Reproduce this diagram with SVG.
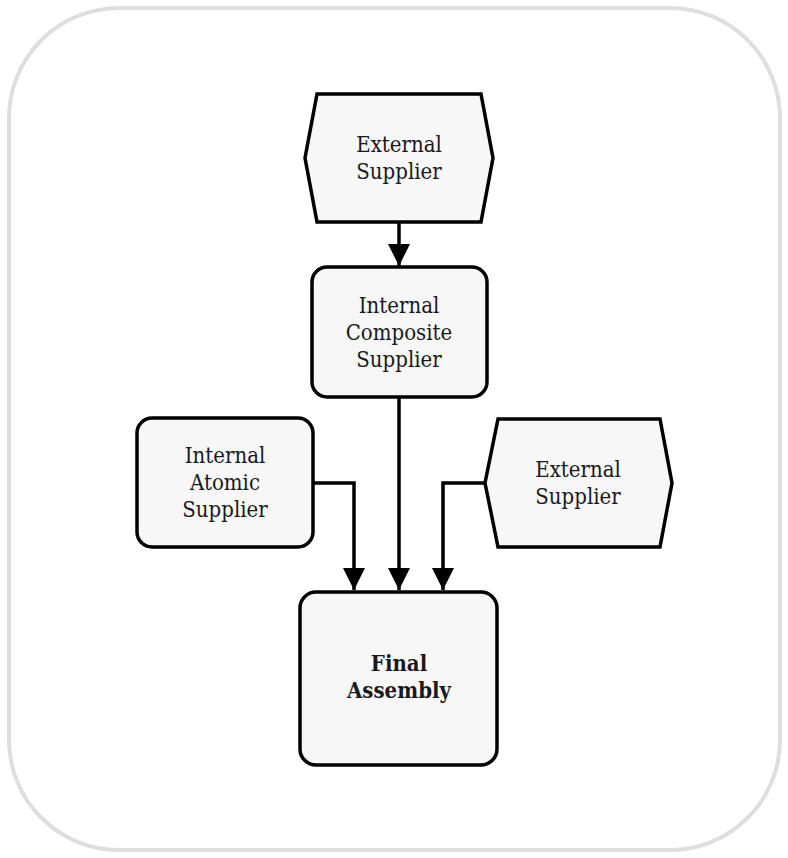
<svg xmlns="http://www.w3.org/2000/svg" width="788" height="858" viewBox="0 0 788 858">
  <defs>
    <marker id="arrow" viewBox="0 0 10 10" refX="10" refY="5" markerWidth="6.4" markerHeight="6.4" markerUnits="strokeWidth" orient="auto">
      <path d="M0,0 L10,5 L0,10 Z" fill="#000"/>
    </marker>
    <style>
      .frame { fill: #fff; stroke: #dedede; stroke-width: 4; }
      .node { fill: #f7f7f7; stroke: #000; stroke-width: 3.5; stroke-linejoin: miter; }
      .edge { fill: none; stroke: #000; stroke-width: 3.5; marker-end: url(#arrow); }
      .label { font-family: "DejaVu Serif Condensed", "DejaVu Serif", "Liberation Serif", serif; font-stretch: condensed; font-size: 22px; fill: #1a1a1a; text-anchor: middle; }
      .bold { font-weight: bold; }
    </style>
  </defs>

  <rect class="frame" x="9" y="8" width="771" height="842" rx="110" ry="110"/>

  <g id="connectors">
    <path class="edge" d="M399,222 L399,266"/>
    <path class="edge" d="M399,397 L399,590"/>
    <path class="edge" d="M313,483 L354,483 L354,590"/>
    <path class="edge" d="M485,483 L443,483 L443,590"/>
  </g>

  <g id="external-supplier-top">
    <polygon class="node" points="317,94 481,94 493,158 481,222 317,222 305,158"/>
    <text class="label" x="399" y="152">External</text>
    <text class="label" x="399" y="179">Supplier</text>
  </g>

  <g id="internal-composite-supplier">
    <rect class="node" x="312" y="267" width="175" height="130" rx="15" ry="15"/>
    <text class="label" x="399" y="313">Internal</text>
    <text class="label" x="399" y="340">Composite</text>
    <text class="label" x="399" y="367">Supplier</text>
  </g>

  <g id="internal-atomic-supplier">
    <rect class="node" x="137" y="418" width="176" height="129" rx="15" ry="15"/>
    <text class="label" x="225" y="463">Internal</text>
    <text class="label" x="225" y="490">Atomic</text>
    <text class="label" x="225" y="517">Supplier</text>
  </g>

  <g id="external-supplier-right">
    <polygon class="node" points="498,419 660,419 672,483 660,547 498,547 485,483"/>
    <text class="label" x="578" y="477">External</text>
    <text class="label" x="578" y="504">Supplier</text>
  </g>

  <g id="final-assembly">
    <rect class="node" x="300" y="592" width="197" height="173" rx="16" ry="16"/>
    <text class="label bold" x="399" y="671">Final</text>
    <text class="label bold" x="399" y="698">Assembly</text>
  </g>
</svg>
